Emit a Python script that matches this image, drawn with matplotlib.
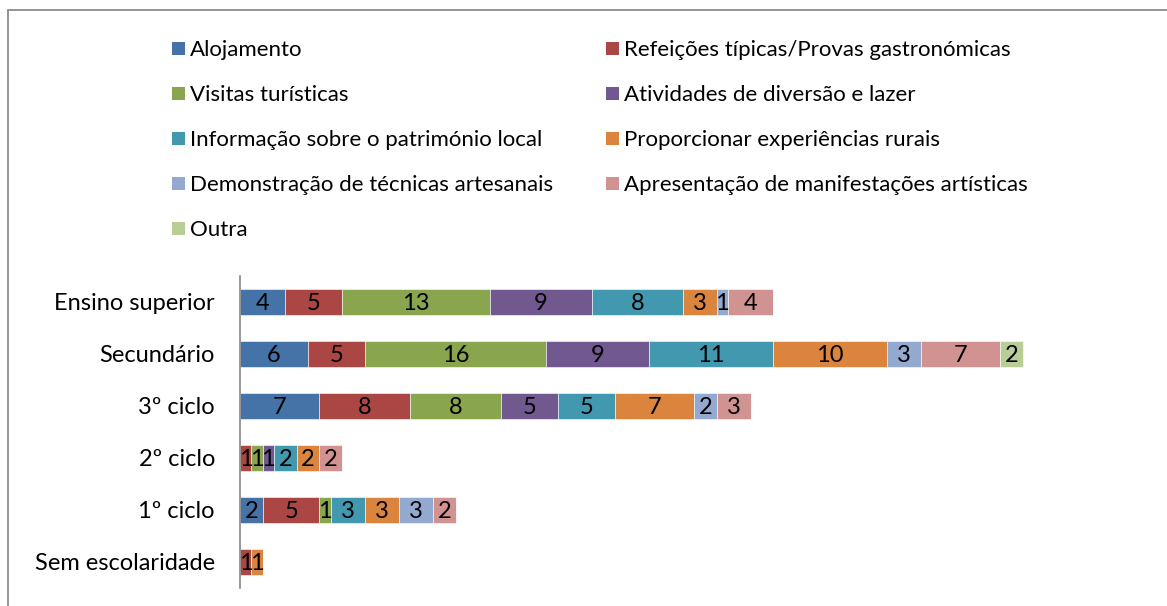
import matplotlib
matplotlib.use("Agg")
import matplotlib.pyplot as plt
from matplotlib.patches import Rectangle
import numpy as np

plt.rcParams['font.family'] = ['Lato', 'DejaVu Sans']

categories = ["Ensino superior", "Secundário", "3º ciclo", "2º ciclo", "1º ciclo", "Sem escolaridade"]

series_names = [
    "Alojamento",
    "Refeições típicas/Provas gastronómicas",
    "Visitas turísticas",
    "Atividades de diversão e lazer",
    "Informação sobre o património local",
    "Proporcionar experiências rurais",
    "Demonstração de técnicas artesanais",
    "Apresentação de manifestações artísticas",
    "Outra",
]

alojamento   = [4, 6, 7, 0, 2, 0]
refeicoes    = [5, 5, 8, 1, 5, 1]
visitas      = [13, 16, 8, 1, 1, 0]
atividades   = [9, 9, 5, 1, 0, 0]
informacao   = [8, 11, 5, 2, 3, 0]
experiencias = [3, 10, 7, 2, 3, 1]
demonstracao = [1, 3, 2, 0, 3, 0]
apresentacao = [4, 7, 3, 2, 2, 0]
outra        = [0, 2, 0, 0, 0, 0]

series_values = [alojamento, refeicoes, visitas, atividades, informacao,
                 experiencias, demonstracao, apresentacao, outra]

colors = ["#4572A7", "#AA4643", "#89A54E", "#71588F", "#4198AF",
          "#DB843D", "#93A9CF", "#D19392", "#B9CD96"]

W, H = 1167, 606
fig = plt.figure(figsize=(W / 100, H / 100), dpi=100)

# outer chart border
fig.add_artist(Rectangle((8 / W, 0 - 0.01), 1.05, 1 - 10 / H + 0.01,
                         transform=fig.transFigure, fill=False,
                         edgecolor="#8c8c8c", linewidth=1.3))

ax_left, ax_right = 240 / W, 1160 / W
ax_top, ax_bottom = 1 - 276 / H, 1 - 588 / H
ax = fig.add_axes([ax_left, ax_bottom, ax_right - ax_left, ax_top - ax_bottom])

y = np.arange(len(categories))
left = np.zeros(len(categories))
cat_size = 17
num_size = 17
legend_size = 16
for name, vals, col in zip(series_names, series_values, colors):
    vals = np.array(vals, dtype=float)
    bars = ax.barh(y, vals, left=left, height=0.5, color=col,
                   edgecolor="white", linewidth=0.4)
    for b, v in zip(bars, vals):
        if v > 0:
            ax.text(b.get_x() + b.get_width() / 2, b.get_y() + b.get_height() / 2,
                    f"{int(v)}", ha="center", va="center_baseline",
                    fontsize=num_size, color="black")
    left += vals

ax.set_xlim(0, 920 / 11.35)
ax.set_ylim(len(categories) - 0.5, -0.5)
ax.set_yticks(y)
ax.set_yticklabels(categories, fontsize=cat_size)
ax.tick_params(axis="y", length=0, pad=18)
ax.set_xticks([])
for s in ["top", "right", "bottom"]:
    ax.spines[s].set_visible(False)
ax.spines["left"].set_color("#868686")
ax.spines["left"].set_linewidth(1.2)

# legend laid out in two columns, filled row by row
col_x = [172 / W, 606 / W]
row_y0, row_step = 48, 45
sq = 13
for i, (name, col) in enumerate(zip(series_names, colors)):
    r, c = divmod(i, 2)
    yc = row_y0 + r * row_step
    fig.add_artist(Rectangle((col_x[c], 1 - (yc + sq / 2) / H), sq / W, sq / H,
                             transform=fig.transFigure, facecolor=col,
                             edgecolor="none"))
    fig.text(col_x[c] + (sq + 5) / W, 1 - yc / H, name, fontsize=legend_size,
             ha="left", va="center_baseline", color="black")

fig.savefig("out.png", dpi=100)
